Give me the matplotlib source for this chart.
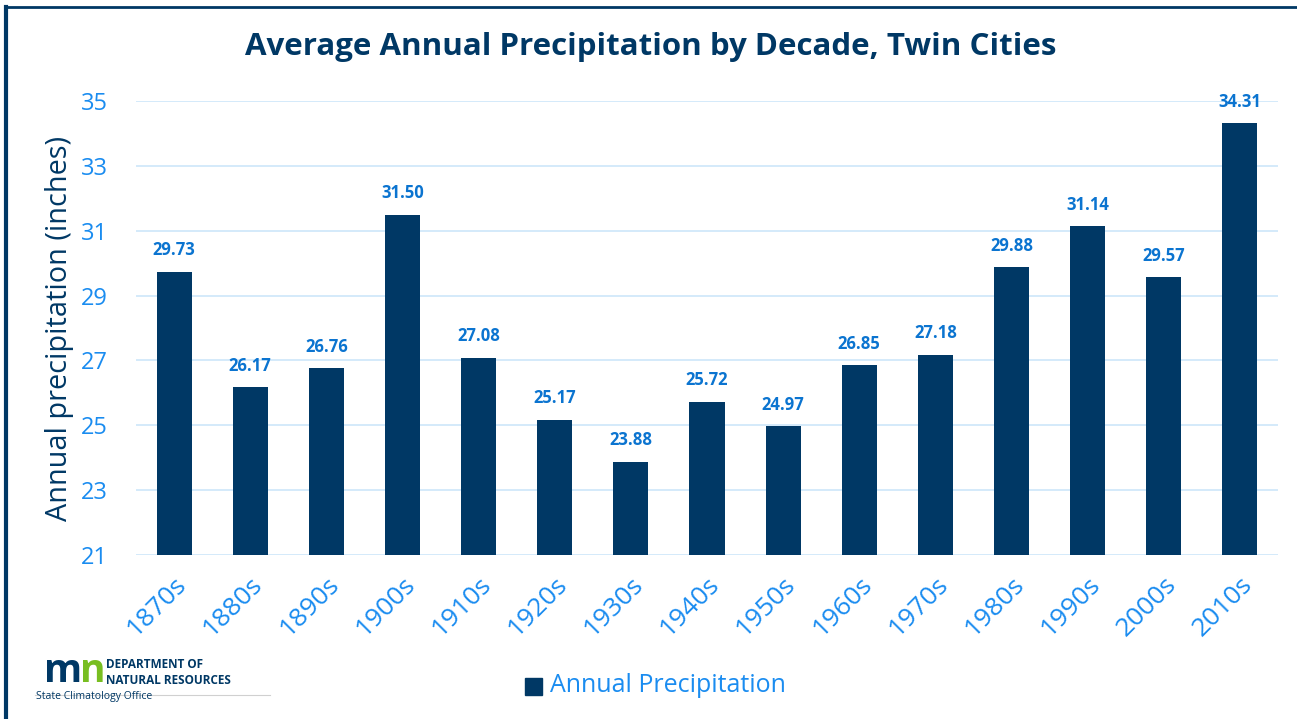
import matplotlib
matplotlib.use("Agg")
import matplotlib.pyplot as plt
from matplotlib.patches import Rectangle
from matplotlib.lines import Line2D

decades = ["1870s", "1880s", "1890s", "1900s", "1910s", "1920s", "1930s", "1940s",
           "1950s", "1960s", "1970s", "1980s", "1990s", "2000s", "2010s"]
precip = [29.73, 26.17, 26.76, 31.50, 27.08, 25.17, 23.88, 25.72,
          24.97, 26.85, 27.18, 29.88, 31.14, 29.57, 34.31]
yticks = [21, 23, 25, 27, 29, 31, 33, 35]

NAVY = "#003865"
TICK_BLUE = "#1A8CF0"
LABEL_BLUE = "#0B74D0"
GRID = "#CDE6FA"
FONT = "Open Sans"

plt.rcParams['font.family'] = [FONT, 'DejaVu Sans']

fig = plt.figure(figsize=(12.97, 7.19), dpi=100)
ax = fig.add_axes([136/1297, 1-555/719, (1278-136)/1297, (555-101)/719])

x = list(range(len(decades)))
ax.bar(x, precip, width=0.46, color=NAVY, zorder=3)
ax.set_ylim(21, 35)
ax.set_xlim(-0.5, len(decades)-0.5)
ax.set_yticks(yticks)
ax.set_yticklabels([str(t) for t in yticks])
ax.grid(axis='y', color=GRID, linewidth=1.2, zorder=0)
for s in ax.spines.values():
    s.set_visible(False)
ax.tick_params(axis='both', length=0, colors=TICK_BLUE)
ax.tick_params(axis='y', pad=20, labelsize=17)
ax.set_xticks(x)
ax.set_xticklabels(decades, rotation=45, ha='right', rotation_mode='anchor', fontsize=19, color=TICK_BLUE)
ax.tick_params(axis='x', pad=12)

for xi, v in zip(x, precip):
    ax.annotate(f"{v:.2f}", (xi, v), xytext=(0, 9), textcoords='offset points',
                ha='center', va='bottom', fontsize=12, fontweight='bold', color=LABEL_BLUE, zorder=4)

ax.set_ylabel("Annual precipitation (inches)", fontsize=20.8, color=NAVY)
ax.yaxis.set_label_coords(-0.054, 0.5)

fig.text(0.502, 1-47/719, "Average Annual Precipitation by Decade, Twin Cities",
         ha='center', va='center', fontsize=22.5, fontweight='bold', color=NAVY)

# legend
fig.patches.append(Rectangle((525/1297, 1-695/719), 17/1297, 17/719, transform=fig.transFigure,
                             color=NAVY, figure=fig))
fig.text(550/1297, 1-686/719, "Annual Precipitation", ha='left', va='center',
         fontsize=18, color=TICK_BLUE)

# frame
fig.lines.append(Line2D([6/1297, 6/1297], [0, 1-7/719], transform=fig.transFigure, color=NAVY, linewidth=3))
fig.lines.append(Line2D([6/1297, 1], [1-7/719, 1-7/719], transform=fig.transFigure, color=NAVY, linewidth=2))

# logo
fig.text(44/1297, 1-672/719, "m", ha='left', va='center', fontsize=28, fontweight='bold', color=NAVY)
fig.text(80/1297, 1-672/719, "n", ha='left', va='center', fontsize=28, fontweight='bold', color="#78BE21")
fig.text(106/1297, 1-665/719, "DEPARTMENT OF", ha='left', va='center', fontsize=8.5, fontweight='bold', color=NAVY)
fig.text(106/1297, 1-680/719, "NATURAL RESOURCES", ha='left', va='center', fontsize=8.5, fontweight='bold', color=NAVY)
fig.lines.append(Line2D([35/1297, 270/1297], [1-695/719, 1-695/719], transform=fig.transFigure, color="#D0D0D0", linewidth=0.8))
fig.text(36/1297, 1-696/719, "State Climatology Office", ha='left', va='center', fontsize=7.5, color=NAVY)

fig.savefig("out.png", dpi=100)
